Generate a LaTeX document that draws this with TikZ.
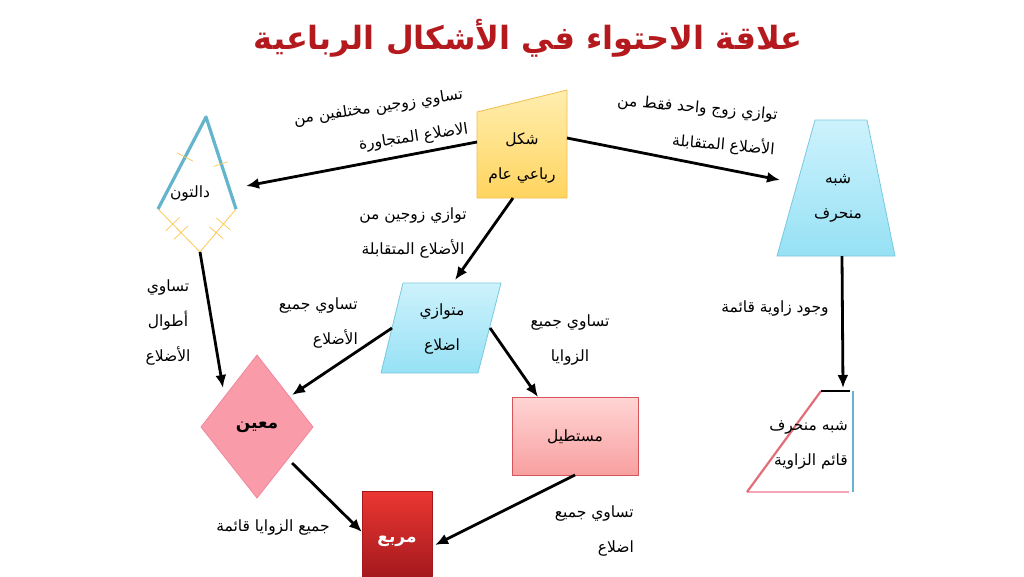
\documentclass[tikz,border=0pt]{standalone}
\usepackage{fontspec}
\newfontfamily\arabicfont[Script=Arabic]{DejaVu Sans}
\TeXXeTstate=1
\usetikzlibrary{arrows.meta}
\newcommand{\ar}[1]{\beginR #1\endR}

\definecolor{genTop}{RGB}{255,238,175}
\definecolor{genBot}{RGB}{255,212,95}
\definecolor{genLine}{RGB}{240,190,80}
\definecolor{cyanTop}{RGB}{205,242,252}
\definecolor{cyanBot}{RGB}{150,225,245}
\definecolor{cyanLine}{RGB}{120,200,225}
\definecolor{pinkFill}{RGB}{250,155,170}
\definecolor{pinkLine}{RGB}{240,135,155}
\definecolor{rectTop}{RGB}{255,212,212}
\definecolor{rectBot}{RGB}{248,160,160}
\definecolor{rectLine}{RGB}{215,85,90}
\definecolor{sqTop}{RGB}{235,55,50}
\definecolor{sqBot}{RGB}{165,25,30}
\definecolor{kiteBlue}{RGB}{100,180,205}
\definecolor{kiteYellow}{RGB}{250,200,80}
\definecolor{rtRed}{RGB}{225,110,120}
\definecolor{rtPink}{RGB}{242,165,180}
\definecolor{titleRed}{RGB}{180,25,30}

\begin{document}
\begin{tikzpicture}[x=1pt,y=-1pt,line join=round]
	\tikzstyle{link}=[-{Latex[length=13pt,width=11pt]},line width=2.8pt,black]
	\tikzstyle{annot}=[font=\arabicfont\fontsize{15.5}{35}\selectfont,inner sep=1pt]
	\tikzstyle{boldannot}=[annot,font=\arabicfont\bfseries\fontsize{17}{37}\selectfont]
	\tikzstyle{tick}=[kiteYellow,line width=0.7pt]
	\useasboundingbox (0,0) rectangle (1024,576);
	
	% Title
	\node[font=\arabicfont\bfseries\fontsize{32}{40}\selectfont,text=titleRed,inner sep=0pt] (title) at (528,38) {\ar{علاقة الاحتواء في الأشكال الرباعية}};
	
	% Draw the general quadrilateral
	\shadedraw[top color=genTop,bottom color=genBot,draw=genLine,line width=0.8pt]
		(477,112) -- (567,90) -- (567,198) -- (477,198) -- cycle;
	\coordinate (Q-w) at (477,142);
	\coordinate (Q-e) at (567,138);
	\coordinate (Q-s) at (513,198);
	\node[annot,align=center] (Q) at (522,158) {\ar{شكل}\\\ar{رباعي عام}};
	
	% Draw the kite
	\draw[kiteYellow,line width=0.8pt] (158,209) -- (200,252) -- (236,209);
	\draw[kiteBlue,line width=3.2pt] (158,209) -- (206,117) -- (236,209);
	\foreach \x/\y/\dx/\dy in {185/157/8/4.2, 221/164/7/-2.3, 172.7/224/7/-6.8, 181/232.6/7/-6.8, 223.4/224/7/5.9, 216.2/232.7/7/5.9}
		\draw[tick] (\x-\dx,\y-\dy) -- (\x+\dx,\y+\dy);
	\coordinate (K-e) at (246,186);
	\coordinate (K-s) at (200,252);
	\node[annot] (K) at (190,193) {\ar{دالتون}};
	
	% Draw the trapezoid
	\shadedraw[top color=cyanTop,bottom color=cyanBot,draw=cyanLine,line width=0.8pt]
		(815,120) -- (867,120) -- (895,256) -- (777,256) -- cycle;
	\coordinate (T-w) at (780,180);
	\coordinate (T-s) at (842,256);
	\node[annot,align=center] (T) at (838,198) {\ar{شبه}\\\ar{منحرف}};
	
	% Draw the parallelogram
	\shadedraw[top color=cyanTop,bottom color=cyanBot,draw=cyanLine,line width=0.8pt]
		(403,283) -- (501,283) -- (478,373) -- (381,373) -- cycle;
	\coordinate (P-n) at (455,280);
	\coordinate (P-w) at (392,328);
	\coordinate (P-e) at (490,328);
	\node[annot,align=center] (P) at (442,329) {\ar{متوازي}\\\ar{اضلاع}};
	
	% Draw the rhombus
	\filldraw[fill=pinkFill,draw=pinkLine,line width=0.8pt]
		(257,355) -- (313,427) -- (257,498) -- (201,427) -- cycle;
	\coordinate (R-n) at (223,388);
	\coordinate (R-ne) at (292,395);
	\coordinate (R-se) at (292,463);
	\node[boldannot] (R) at (257,427) {\ar{معين}};
	
	% Draw the rectangle
	\shadedraw[top color=rectTop,bottom color=rectBot,draw=rectLine,line width=0.8pt]
		(512,397) rectangle (638,475);
	\coordinate (S-n) at (538,397);
	\coordinate (S-s) at (575,475);
	\node[annot] (S) at (575,437) {\ar{مستطيل}};
	
	% Draw the square
	\shadedraw[top color=sqTop,bottom color=sqBot,draw=sqBot,line width=0.8pt]
		(362,491) rectangle (432,576);
	\coordinate (Sq-w) at (362,532);
	\coordinate (Sq-e) at (435,545);
	\node[boldannot,text=white] (Sq) at (397,541) {\ar{مربع}};
	
	% Draw the right trapezoid
	\draw[rtPink,line width=2.2pt] (747,492) -- (849,492);
	\draw[rtRed,line width=2.2pt] (747,492) -- (821,391);
	\draw[black,line width=2.8pt] (821,391) -- (850,391);
	\draw[kiteBlue,line width=2.2pt] (853,391) -- (853,492);
	\coordinate (RT-n) at (843,388);
	\node[annot,align=right,anchor=east] (RT) at (849,445) {\ar{شبه منحرف}\\\ar{قائم الزاوية}};
	
	% Connect the shapes
	\draw[link] (Q-w) -- (K-e);
	\draw[link] (Q-e) -- (T-w);
	\draw[link] (Q-s) -- (P-n);
	\draw[link] (K-s) -- (R-n);
	\draw[link] (P-w) -- (R-ne);
	\draw[link] (P-e) -- (S-n);
	\draw[link] (T-s) -- (RT-n);
	\draw[link] (R-se) -- (Sq-w);
	\draw[link] (S-s) -- (Sq-e);
	
	% Annotate the links
	\node[annot,align=right,rotate=8.6] (l-QK) at (381,125) {\ar{تساوي زوجين مختلفين من}\\\ar{الاضلاع المتجاورة}};
	\node[annot,align=right,rotate=-5] (l-QT) at (696,126) {\ar{توازي زوج واحد فقط من}\\\ar{الأضلاع المتقابلة}};
	\node[annot,align=center] (l-QP) at (413,233) {\ar{توازي زوجين من}\\\ar{الأضلاع المتقابلة}};
	\node[annot,align=center] (l-KR) at (168,322) {\ar{تساوي}\\\ar{أطوال}\\\ar{الأضلاع}};
	\node[annot,align=right,anchor=east] (l-PR) at (359,323) {\ar{تساوي جميع}\\\ar{الأضلاع}};
	\node[annot,align=center] (l-PS) at (570,340) {\ar{تساوي جميع}\\\ar{الزوايا}};
	\node[annot] (l-TRT) at (775,308) {\ar{وجود زاوية قائمة}};
	\node[annot] (l-RSq) at (273,527) {\ar{جميع الزوايا قائمة}};
	\node[annot,align=right,anchor=east] (l-SSq) at (635,531) {\ar{تساوي جميع}\\\ar{اضلاع}};
	
\end{tikzpicture}
\end{document}
